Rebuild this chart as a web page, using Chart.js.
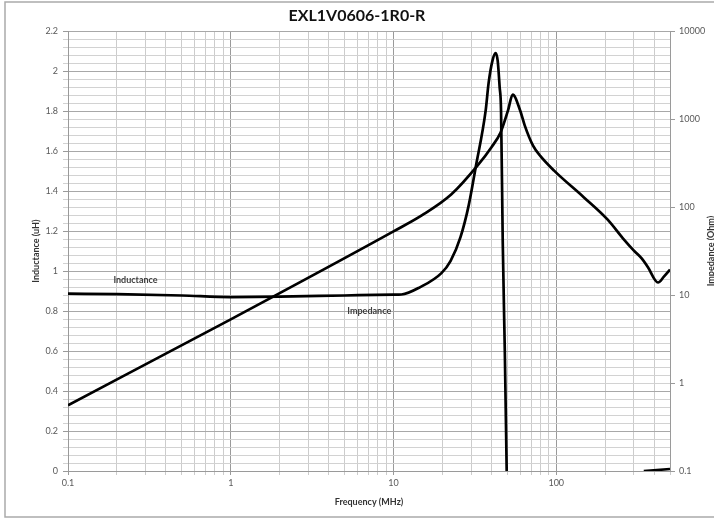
<!DOCTYPE html>
<html>
<head>
<meta charset="utf-8">
<script src="https://cdn.jsdelivr.net/npm/chart.js@4.4.1/dist/chart.umd.min.js"></script>
<style>
  html, body { margin: 0; padding: 0; background: #fff; }
  canvas { display: block; }
</style>
</head>
<body>
<canvas id="myChart" width="714" height="521"></canvas>
<script>
// inductance curve (uH, left axis)
const freqL = [0.1, 0.2, 0.5, 1, 2, 5, 10, 11.2, 14.6, 19.7, 22.4, 25.8, 29, 32, 36.8, 38.4, 40.5, 42.4, 43.7, 44.9, 45.8, 46.9, 48.3, 49.6, 100, 345, 500];
const inductance = [0.887, 0.885, 0.878, 0.87, 0.872, 0.878, 0.882, 0.883, 0.92, 0.99, 1.05, 1.17, 1.33, 1.52, 1.80, 1.94, 2.05, 2.09, 2.05, 1.92, 1.80, 1.15, 0.6, 0, null, 0, 0.01];

// impedance curve (Ohm, right axis)
const freqZ = [0.1, 1, 10, 15, 22.7, 32.9, 40, 45.5, 50.5, 54, 60, 64, 72, 80, 97, 148, 207, 260, 300, 336, 366, 422, 460, 500];
const impedance = [0.56, 5.3, 53, 81, 140, 298, 480, 706, 1250, 1900, 1256, 850, 500, 380, 260, 129, 72, 43, 32, 26, 20.7, 13.9, 16.3, 19.5];

const rightTicks = [0.1, 1, 10, 100, 1000, 10000];

// text labels on the plot: [text, freq, inductance]
const curveLabels = [
  ["Inductance", 0.26, 0.953],
  ["Impedance", 7.1, 0.80]
];

const isDecade = v => Math.abs(Math.log10(v) - Math.round(Math.log10(v))) < 1e-9;
const isMajorL = v => Math.abs(v / 0.2 - Math.round(v / 0.2)) < 1e-6;

const tickFont = { family: "Lato", size: 9 };
const titleFont = { family: "Lato", size: 9, weight: "bold" };

const frame = {
  id: "frame",
  afterDraw(chart) {
    const c = chart.ctx;
    c.save();
    c.strokeStyle = "#aaa";
    c.lineWidth = 1.5;
    c.strokeRect(5, 2, 760, 515);
    // curve labels
    c.font = "bold 9px Lato";
    c.fillStyle = "#404040";
    c.textAlign = "center";
    c.textBaseline = "middle";
    curveLabels.forEach(([t, f, l]) => {
      c.fillText(t, chart.scales.x.getPixelForValue(f), chart.scales.yL.getPixelForValue(l));
    });
    // right axis title, reading bottom to top
    const a = chart.chartArea;
    c.translate(a.right + 41, (a.top + a.bottom) / 2);
    c.rotate(-Math.PI / 2);
    c.fillStyle = "#333";
    c.fillText("Impedance (Ohm)", 0, 0);
    c.restore();
  }
};

const ctx = document.getElementById("myChart");

new Chart(ctx, {
  type: "line",
  data: {
    datasets: [{
      label: "Inductance",
      data: freqL.map((f, i) => ({ x: f, y: inductance[i] })),
      yAxisID: "yL",
      borderColor: "#000",
      borderWidth: 2.7,
      pointRadius: 0,
      cubicInterpolationMode: "monotone",
      spanGaps: false
    }, {
      label: "Impedance",
      data: freqZ.map((f, i) => ({ x: f, y: impedance[i] })),
      yAxisID: "yR",
      borderColor: "#000",
      borderWidth: 2.7,
      pointRadius: 0,
      cubicInterpolationMode: "monotone"
    }]
  },
  options: {
    responsive: false,
    animation: false,
    layout: { padding: 0 },
    plugins: {
      legend: { display: false },
      tooltip: { enabled: false },
      title: {
        display: true,
        text: "EXL1V0606-1R0-R",
        color: "#111",
        font: { family: "Lato", size: 16, weight: "bold" },
        padding: { top: 6, bottom: 6 }
      }
    },
    scales: {
      x: {
        type: "logarithmic",
        position: "bottom",
        min: 0.1,
        max: 500,
        afterBuildTicks: s => {
          const t = [];
          for (let e = -1; e <= 2; e++) {
            for (let m = 1; m <= 9; m++) {
              const v = Number((m * Math.pow(10, e)).toPrecision(6));
              if (v <= 500) t.push({ value: v });
            }
          }
          s.ticks = t;
        },
        afterFit: s => { s.height = 50; },
        grid: {
          color: c => isDecade(c.tick.value) ? "#9a9a9a" : "#cccccc",
          tickColor: c => isDecade(c.tick.value) ? "#9a9a9a" : "#cccccc",
          tickLength: 4
        },
        border: { color: "#9a9a9a" },
        ticks: {
          autoSkip: false,
          maxRotation: 0,
          padding: 3,
          color: "#595959",
          font: tickFont,
          callback: v => isDecade(v) ? String(Number(v.toPrecision(6))) : ""
        },
        title: {
          display: true,
          text: "Frequency (MHz)",
          color: "#333",
          font: titleFont,
          padding: { top: 0, bottom: 14 }
        }
      },
      yL: {
        type: "linear",
        position: "left",
        min: 0,
        max: 2.2,
        afterBuildTicks: s => {
          const t = [];
          for (let i = 0; i <= 55; i++) t.push({ value: Number((i * 0.04).toFixed(2)) });
          s.ticks = t;
        },
        afterFit: s => { s.width = 68; },
        grid: {
          color: c => isMajorL(c.tick.value) ? "#a8a8a8" : "#d2d2d2",
          tickColor: c => isMajorL(c.tick.value) ? "#9a9a9a" : "#d2d2d2",
          tickLength: 5
        },
        border: { color: "#9a9a9a" },
        ticks: {
          autoSkip: false,
          padding: 5,
          color: "#595959",
          font: tickFont,
          callback: v => isMajorL(v) ? String(Number(v.toFixed(1))) : ""
        },
        title: {
          display: true,
          text: "Inductance (uH)",
          color: "#333",
          font: titleFont,
          padding: { top: 31, bottom: 0 }
        }
      },
      yR: {
        type: "logarithmic",
        position: "right",
        min: 0.1,
        max: 10000,
        afterBuildTicks: s => { s.ticks = rightTicks.map(v => ({ value: v })); },
        afterFit: s => { s.width = 44; },
        grid: {
          drawOnChartArea: false,
          tickColor: "#9a9a9a",
          tickLength: 5
        },
        border: { color: "#9a9a9a" },
        ticks: {
          autoSkip: false,
          padding: 4,
          color: "#595959",
          font: tickFont,
          callback: v => String(v)
        }
      }
    }
  },
  plugins: [frame]
});
</script>
</body>
</html>
